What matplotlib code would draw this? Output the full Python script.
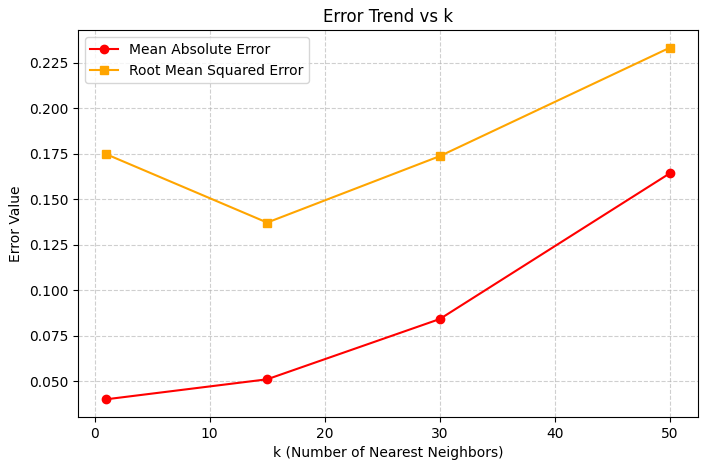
import matplotlib
matplotlib.use("Agg")
import matplotlib.pyplot as plt

k_values = [1, 15, 30, 50]
mae = [0.0401, 0.0511, 0.0842, 0.1643]
rmse = [0.1748, 0.1372, 0.1737, 0.2333]

fig = plt.figure(figsize=(7.08, 4.70), dpi=100)
ax = fig.add_axes([0.110, 0.113, 0.876, 0.823])
ax.plot(k_values, mae, marker='o', color='red', label='Mean Absolute Error')
ax.plot(k_values, rmse, marker='s', color='orange', label='Root Mean Squared Error')
ax.set_title('Error Trend vs k')
ax.set_xlabel('k (Number of Nearest Neighbors)')
ax.set_ylabel('Error Value')
ax.grid(True, linestyle='--', alpha=0.6)
ax.legend(loc='upper left')
fig.savefig('out.png', dpi=100)
